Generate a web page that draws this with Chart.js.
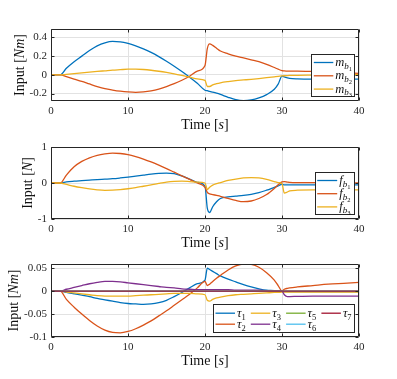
<!doctype html>
<html>
<head>
<meta charset="utf-8">
<title>Inputs</title>
<script src="https://cdn.jsdelivr.net/npm/chart.js@4.4.1/dist/chart.umd.min.js"></script>
<style>
  html, body { margin: 0; padding: 0; background: #fff; }
  body { width: 397px; height: 379px; position: relative; overflow: hidden; }
  .plot { position: absolute; left: 0; width: 397px; }
</style>
</head>
<body>
<div class="plot" style="top:0px;height:135px"><canvas id="c1"></canvas></div>
<div class="plot" style="top:127px;height:126px"><canvas id="c2"></canvas></div>
<div class="plot" style="top:244px;height:127px"><canvas id="c3"></canvas></div>
<script>
// time grid shared by the sampled curves [s]
const time = [0, 1.2, 2, 3, 4, 5, 6, 7, 8, 9, 10, 11, 12, 13, 14, 15, 16, 17, 18, 19, 20,
  20.3, 20.6, 21, 21.5, 22, 23, 24, 25, 26, 27, 28, 29, 29.5, 30, 30.3, 30.7, 31, 32, 34, 36, 38, 40];
const flatTime = [0, 40];

// body moments [Nm]
const mb1 = [0, 0, 0.07, 0.14, 0.2, 0.26, 0.31, 0.342, 0.357, 0.353, 0.336, 0.31, 0.278, 0.24, 0.195, 0.145, 0.092, 0.035, -0.025, -0.09, -0.165,
  -0.17, -0.178, -0.186, -0.197, -0.21, -0.24, -0.265, -0.275, -0.268, -0.247, -0.212, -0.155, -0.1, -0.015, -0.022, -0.033, -0.038, -0.043, -0.045, -0.045, -0.045, -0.045];
const mb2 = [0, 0, -0.02, -0.045, -0.07, -0.098, -0.125, -0.148, -0.163, -0.175, -0.183, -0.187, -0.183, -0.172, -0.153, -0.126, -0.095, -0.058, -0.015, 0.04, 0.1,
  0.28, 0.33, 0.315, 0.285, 0.255, 0.225, 0.2, 0.18, 0.16, 0.14, 0.112, 0.078, 0.06, 0.045, 0.042, 0.04, 0.04, 0.04, 0.036, 0.03, 0.022, 0.015];
const mb3 = [0, 0, 0.005, 0.012, 0.02, 0.028, 0.036, 0.043, 0.05, 0.055, 0.06, 0.061, 0.057, 0.049, 0.038, 0.025, 0.01, -0.007, -0.025, -0.044, -0.06,
  -0.125, -0.125, -0.108, -0.095, -0.085, -0.072, -0.062, -0.055, -0.048, -0.04, -0.031, -0.021, -0.016, -0.012, -0.01, -0.008, -0.007, -0.005, -0.003, -0.001, 0.001, 0.003];

// body forces [N]
const fb1 = [0, 0, 0.03, 0.05, 0.065, 0.08, 0.095, 0.107, 0.12, 0.14, 0.163, 0.19, 0.218, 0.245, 0.265, 0.272, 0.26, 0.195, 0.11, 0.02, -0.09,
  -0.7, -0.82, -0.66, -0.52, -0.43, -0.385, -0.365, -0.345, -0.315, -0.27, -0.2, -0.12, -0.08, -0.035, -0.05, -0.05, -0.05, -0.05, -0.05, -0.05, -0.05, -0.05];
const fb2 = [0, 0, 0.22, 0.45, 0.6, 0.7, 0.77, 0.81, 0.83, 0.82, 0.79, 0.735, 0.665, 0.585, 0.495, 0.4, 0.3, 0.2, 0.1, 0.0, -0.12,
  -0.26, -0.3, -0.32, -0.345, -0.37, -0.43, -0.485, -0.52, -0.5, -0.43, -0.32, -0.15, -0.05, 0.03, 0.04, 0.025, 0.015, 0.01, 0.01, 0.01, 0.005, 0.0];
const fb3 = [0, 0, -0.04, -0.09, -0.13, -0.165, -0.19, -0.203, -0.2, -0.185, -0.16, -0.13, -0.09, -0.05, -0.01, 0.025, 0.045, 0.05, 0.04, 0.025, 0.0,
  -0.18, -0.12, -0.06, -0.02, 0.01, 0.07, 0.11, 0.14, 0.15, 0.14, 0.1, 0.04, 0.01, -0.02, -0.28, -0.25, -0.22, -0.2, -0.19, -0.19, -0.19, -0.19];

// joint torques [Nm]
const tau1 = [0, 0, -0.003, -0.006, -0.009, -0.012, -0.016, -0.019, -0.022, -0.025, -0.027, -0.028, -0.029, -0.028, -0.025, -0.02, -0.012, -0.003, 0.007, 0.016, 0.024,
  0.05, 0.047, 0.043, 0.038, 0.033, 0.026, 0.02, 0.014, 0.009, 0.005, 0.002, 0.001, 0.0, 0.0, -0.001, -0.001, -0.001, -0.001, -0.001, -0.001, -0.001, -0.001];
const tau2 = [0, 0, -0.018, -0.035, -0.05, -0.064, -0.076, -0.085, -0.09, -0.091, -0.088, -0.082, -0.074, -0.065, -0.054, -0.043, -0.031, -0.019, -0.007, 0.007, 0.021,
  0.012, 0.015, 0.021, 0.028, 0.034, 0.046, 0.055, 0.059, 0.058, 0.052, 0.04, 0.024, 0.012, 0.0, 0.004, 0.006, 0.007, 0.009, 0.012, 0.015, 0.017, 0.019];
const tau3 = [0, 0, -0.002, -0.004, -0.006, -0.008, -0.01, -0.011, -0.011, -0.011, -0.011, -0.01, -0.009, -0.008, -0.007, -0.006, -0.005, -0.005, -0.005, -0.006, -0.008,
  -0.02, -0.022, -0.018, -0.015, -0.013, -0.01, -0.008, -0.007, -0.006, -0.005, -0.004, -0.003, -0.003, -0.002, -0.002, -0.002, -0.002, -0.002, -0.002, -0.002, -0.002, -0.002];
const tau4 = [0, 0, 0.004, 0.008, 0.012, 0.016, 0.019, 0.021, 0.021, 0.02, 0.018, 0.016, 0.014, 0.012, 0.01, 0.008, 0.007, 0.005, 0.004, 0.003, 0.003,
  0.003, 0.003, 0.003, 0.003, 0.003, 0.003, 0.002, 0.002, 0.002, 0.002, 0.001, 0.001, 0.001, 0.0, -0.008, -0.012, -0.012, -0.0115, -0.011, -0.011, -0.011, -0.011];
const tau5 = [0, 0];
const tau6 = [0, 0];
const tau7 = [0, 0];

const xTicks = [0, 10, 20, 30, 40];
const yTicks1 = [-0.2, 0, 0.2, 0.4];
const yTicks2 = [-1, 0, 1];
const yTicks3 = [-0.1, -0.05, 0, 0.05];

const colors = ['#0072BD', '#D95319', '#EDB120', '#7E2F8E', '#77AC30', '#4DBEEE', '#A2142F'];
const SERIF = '"Liberation Serif", "Times New Roman", serif';
const rm = s => s + 'px ' + SERIF;
const it = s => 'italic ' + s + 'px ' + SERIF;
const GRID = '#e2e2e2';
const AXIS = '#262626';

function partsWidth(ctx, parts) {
  let w = 0;
  for (const p of parts) { ctx.font = p.f; w += ctx.measureText(p.t).width; }
  return w;
}
function drawParts(ctx, parts, x, y) {
  let cx = x;
  for (const p of parts) {
    ctx.font = p.f;
    ctx.fillText(p.t, cx, y + (p.dy || 0));
    cx += ctx.measureText(p.t).width;
  }
}
// symbol with nested subscript, e.g. m_{b_1}
function symb(main, sub, subsub) {
  const parts = [{ t: main, f: it(12.5) }];
  if (sub) parts.push({ t: sub, f: it(9), dy: 2.5 });
  parts.push({ t: subsub, f: rm(sub ? 6.5 : 8.5), dy: sub ? 4.5 : 3 });
  return parts;
}

const frame = {
  id: 'frame',
  afterDraw(chart, args, o) {
    const { ctx, chartArea: a } = chart;
    const xs = chart.scales.x, ys = chart.scales.y;
    ctx.save();
    ctx.strokeStyle = AXIS;
    ctx.lineWidth = 1;
    const L = a.left + 0.5, R = a.right - 0.5, T = a.top + 0.5, B = a.bottom - 0.5;
    ctx.beginPath();
    ctx.rect(L, T, R - L, B - T);
    xs.ticks.forEach(t => {
      const p = Math.round(xs.getPixelForValue(t.value)) + 0.5;
      ctx.moveTo(p, B); ctx.lineTo(p, B - 3);
      ctx.moveTo(p, T); ctx.lineTo(p, T + 3);
    });
    ys.ticks.forEach(t => {
      const p = Math.round(ys.getPixelForValue(t.value)) + 0.5;
      ctx.moveTo(L, p); ctx.lineTo(L + 3, p);
      ctx.moveTo(R, p); ctx.lineTo(R - 3, p);
    });
    ctx.stroke();

    // axis titles
    ctx.fillStyle = '#111';
    ctx.textBaseline = 'middle';
    const xw = partsWidth(ctx, o.xTitle);
    drawParts(ctx, o.xTitle, (a.left + a.right) / 2 - xw / 2, a.bottom + 24);
    ctx.save();
    ctx.translate(o.yTitleX, (a.top + a.bottom) / 2);
    ctx.rotate(-Math.PI / 2);
    const yw = partsWidth(ctx, o.yTitle);
    drawParts(ctx, o.yTitle, -yw / 2, 0);
    ctx.restore();

    // legend box
    const g = o.legend;
    const bx = Math.round(a.right - g.right - g.w) + 0.5;
    const by = Math.round(a.top + g.top) + 0.5;
    ctx.fillStyle = '#fff';
    ctx.fillRect(bx, by, g.w, g.h);
    ctx.strokeStyle = AXIS;
    ctx.strokeRect(bx, by, g.w, g.h);
    const sets = chart.data.datasets;
    g.labels.forEach((label, i) => {
      const c = Math.floor(i / g.rows), r = i % g.rows;
      const x0 = bx + g.pad + c * g.colW;
      const y0 = by + g.rowTop + r * g.rowH;
      ctx.strokeStyle = sets[i].borderColor;
      ctx.lineWidth = 1.3;
      ctx.beginPath();
      ctx.moveTo(x0, y0); ctx.lineTo(x0 + g.lineLen, y0);
      ctx.stroke();
      ctx.fillStyle = '#111';
      ctx.textBaseline = 'alphabetic';
      drawParts(ctx, label, x0 + g.lineLen + 2, y0 + 3.5);
    });
    ctx.restore();
  }
};

function series(t, v) { return v.map((y, i) => ({ x: t[i], y })); }

function makeChart(id, cfg) {
  const datasets = cfg.series.map((s, i) => ({
    data: series(s[0], s[1]),
    borderColor: colors[i],
    borderWidth: 1.3,
    pointRadius: 0,
    fill: false,
    cubicInterpolationMode: 'monotone',
    order: -i
  }));
  const tickFont = { family: SERIF, size: 11 };
  return new Chart(document.getElementById(id), {
    type: 'line',
    data: { datasets },
    options: {
      responsive: true,
      maintainAspectRatio: false,
      devicePixelRatio: 1,
      animation: false,
      events: [],
      layout: { padding: { top: cfg.padTop, right: 38, left: 0, bottom: 0 } },
      scales: {
        x: {
          type: 'linear', min: 0, max: 40,
          afterBuildTicks: s => { s.ticks = xTicks.map(v => ({ value: v })); },
          afterFit: s => { s.height = cfg.xAxisH; },
          grid: { color: GRID, drawTicks: false },
          border: { display: false },
          ticks: { font: tickFont, color: AXIS, padding: 4, maxRotation: 0, callback: v => String(v) }
        },
        y: {
          type: 'linear', min: cfg.yMin, max: cfg.yMax,
          afterBuildTicks: s => { s.ticks = cfg.yTicks.map(v => ({ value: v })); },
          afterFit: s => { s.width = 51; },
          grid: { color: GRID, drawTicks: false },
          border: { display: false },
          ticks: { font: tickFont, color: AXIS, padding: 4, callback: v => String(v) }
        }
      },
      plugins: {
        legend: { display: false },
        tooltip: { enabled: false },
        frame: {
          xTitle: [{ t: 'Time [', f: rm(14) }, { t: 's', f: it(14) }, { t: ']', f: rm(14) }],
          yTitle: cfg.yTitle,
          yTitleX: cfg.yTitleX,
          legend: cfg.legend
        }
      }
    },
    plugins: [frame]
  });
}

makeChart('c1', {
  padTop: 29, xAxisH: 34, yMin: -0.28, yMax: 0.49, yTicks: yTicks1, yTitleX: 20,
  yTitle: [{ t: 'Input [', f: rm(14) }, { t: 'Nm', f: it(14) }, { t: ']', f: rm(14) }],
  series: [[time, mb1], [time, mb2], [time, mb3]],
  legend: { right: 5, top: 25, w: 43, h: 42, rows: 3, colW: 0, pad: 2.3, rowTop: 8, rowH: 13.3, lineLen: 19.5,
    labels: [symb('m', 'b', '1'), symb('m', 'b', '2'), symb('m', 'b', '3')] }
});

makeChart('c2', {
  padTop: 20, xAxisH: 34, yMin: -1, yMax: 1, yTicks: yTicks2, yTitleX: 28,
  yTitle: [{ t: 'Input [', f: rm(14) }, { t: 'N', f: it(14) }, { t: ']', f: rm(14) }],
  series: [[time, fb1], [time, fb2], [time, fb3]],
  legend: { right: 5, top: 25, w: 39, h: 42, rows: 3, colW: 0, pad: 1.7, rowTop: 8, rowH: 13.2, lineLen: 20,
    labels: [symb('f', 'b', '1'), symb('f', 'b', '2'), symb('f', 'b', '3')] }
});

makeChart('c3', {
  padTop: 20, xAxisH: 34, yMin: -0.1, yMax: 0.059, yTicks: yTicks3, yTitleX: 14,
  yTitle: [{ t: 'Input [', f: rm(14) }, { t: 'Nm', f: it(14) }, { t: ']', f: rm(14) }],
  series: [[time, tau1], [time, tau2], [time, tau3], [time, tau4], [flatTime, tau5], [flatTime, tau6], [flatTime, tau7]],
  legend: { right: 5, top: 40, w: 141, h: 28, rows: 2, colW: 35.3, pad: 2, rowTop: 8.7, rowH: 11, lineLen: 19.5,
    labels: ['1', '2', '3', '4', '5', '6', '7'].map(n => symb('τ', '', n)) }
});
</script>
</body>
</html>
